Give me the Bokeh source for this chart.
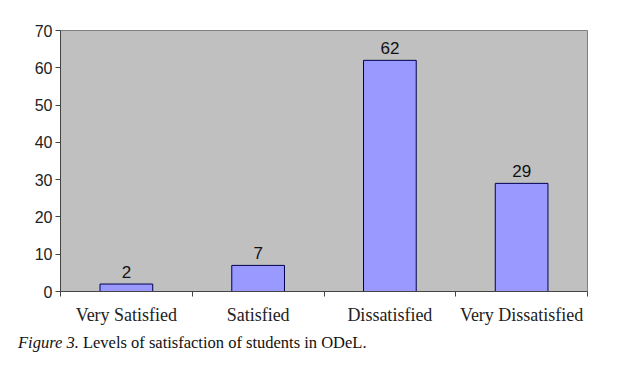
from bokeh.plotting import figure
from bokeh.models import FixedTicker, ColumnDataSource, Range1d, Div
from bokeh.layouts import column
from bokeh.embed import file_html
from bokeh.resources import INLINE
from bokeh.core.properties import value

categories = ["Very Satisfied", "Satisfied", "Dissatisfied", "Very Dissatisfied"]
counts = [2, 7, 62, 29]
y_ticks = [0, 10, 20, 30, 40, 50, 60, 70]
caption_label = "Figure 3."
caption_text = "Levels of satisfaction of students in ODeL."

xs = [i + 0.5 for i in range(len(categories))]
src = ColumnDataSource(dict(x=xs, top=counts, lab=[str(c) for c in counts]))

p = figure(width=606, height=333, output_backend="svg", toolbar_location=None,
           x_range=Range1d(0, len(categories)), y_range=Range1d(0, 70),
           min_border_left=60, min_border_right=19, min_border_top=30, min_border_bottom=42)
p.background_fill_color = "#C0C0C0"
p.border_fill_color = "white"
p.outline_line_color = "#808080"
p.outline_line_width = 1
p.xgrid.visible = False
p.ygrid.visible = False

p.vbar(x="x", top="top", width=0.4, bottom=0, source=src,
       fill_color="#9999FF", line_color="#000050", line_width=1)
p.text(x="x", y="top", text="lab", source=src, text_align="center",
       text_baseline="bottom", y_offset=-6, text_font=value("Liberation Sans"),
       text_font_size="17px", text_color="#111111")

# x axis
p.xaxis.ticker = FixedTicker(ticks=xs, minor_ticks=list(range(len(categories) + 1)))
p.xaxis.major_label_overrides = {x: c for x, c in zip(xs, categories)}
p.xaxis.major_tick_out = 0
p.xaxis.major_tick_in = 0
p.xaxis.minor_tick_out = 5
p.xaxis.minor_tick_in = 0
p.xaxis.minor_tick_line_color = "#444444"
p.xaxis.axis_line_color = "#444444"
p.xaxis.major_label_text_font = "Liberation Serif"
p.xaxis.major_label_text_font_size = "18px"
p.xaxis.major_label_text_color = "#222222"
p.xaxis.major_label_standoff = 8

# y axis
p.yaxis.ticker = FixedTicker(ticks=y_ticks)
p.yaxis.major_tick_out = 5
p.yaxis.major_tick_in = 0
p.yaxis.minor_tick_line_color = None
p.yaxis.major_tick_line_color = "#444444"
p.yaxis.axis_line_color = "#444444"
p.yaxis.major_label_text_font = "Liberation Sans"
p.yaxis.major_label_text_font_size = "16px"
p.yaxis.major_label_text_color = "#222222"
p.yaxis.major_label_standoff = 3

cap = Div(text=f"<i>{caption_label}</i> {caption_text}", width=606, height=20, margin=0,
          styles={"font-family": "Liberation Serif", "font-size": "16.5px",
                  "color": "#111111", "padding-left": "18px", "line-height": "20px"})

layout = column(p, cap, spacing=0)
open("out.html", "w").write(file_html(layout, INLINE))
